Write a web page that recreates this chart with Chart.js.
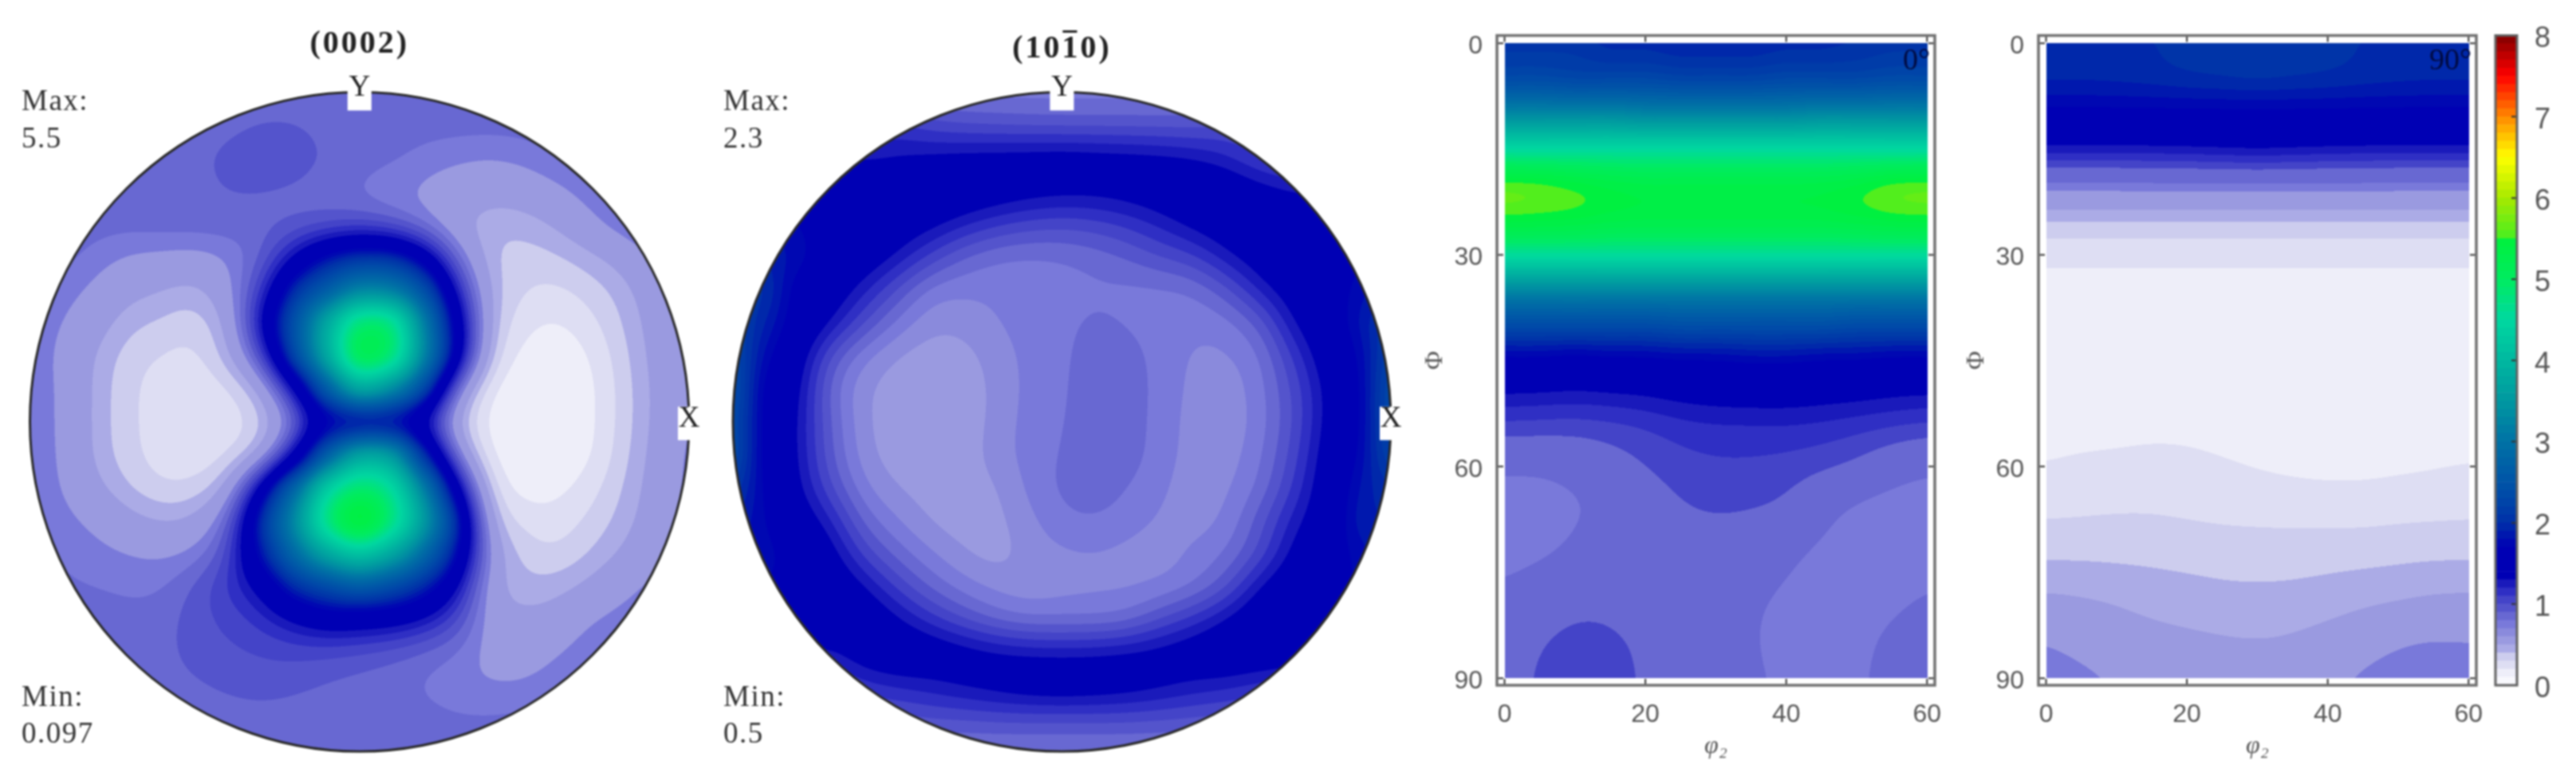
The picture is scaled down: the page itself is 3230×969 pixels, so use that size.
<!DOCTYPE html>
<html>
<head>
<meta charset="utf-8">
<title>Pole figures and ODF sections</title>
<script src="https://cdn.jsdelivr.net/npm/chart.js@4"></script>
<style>
  html, body { margin: 0; padding: 0; background: #fff; }
  body { position: relative; width: 3230px; height: 969px; overflow: hidden; }
  canvas { position: absolute; filter: blur(0.8px); }
</style>
</head>
<body>
<canvas id="pole1"></canvas>
<canvas id="pole2"></canvas>
<canvas id="odf0"></canvas>
<canvas id="odf90"></canvas>
<canvas id="colorbar"></canvas>
<script>
/* === DATA === */
const poleAxis = [-1, -0.9, -0.8, -0.7, -0.6, -0.5, -0.4, -0.3, -0.2, -0.1, 0, 0.1, 0.2, 0.3, 0.4, 0.5, 0.6, 0.7, 0.8, 0.9, 1];
const poleRows = [1, 0.9, 0.8, 0.7, 0.6, 0.5, 0.4, 0.3, 0.2, 0.1, 0, -0.1, -0.2, -0.3, -0.4, -0.5, -0.6, -0.7, -0.8, -0.9, -1];

const pole0002 = [
  [.85,.85,.85,.85,.85,.85,.85,.85,.85,.85,.85,.85,.85,.85,.85,.85,.85,.85,.85,.85,.85],
  [.85,.85,.85,.85,.85,.85,.86,.90,.90,.86,.85,.85,.85,.85,.85,.85,.85,.85,.85,.85,.85],
  [.85,.85,.85,.85,.85,.87,.94,1.0,1.0,.88,.86,.83,.76,.72,.70,.74,.82,.85,.85,.85,.85],
  [.85,.85,.85,.85,.85,.87,.90,.90,.86,.83,.77,.70,.66,.60,.56,.58,.66,.77,.82,.85,.85],
  [.85,.85,.85,.85,.87,.87,.87,.85,.88,.92,.95,.88,.72,.50,.42,.44,.52,.66,.80,.85,.85],
  [.85,.85,.76,.68,.66,.64,.70,.85,1.3,1.75,2.0,1.95,1.5,.78,.38,.34,.38,.46,.56,.74,.80],
  [.80,.76,.66,.55,.50,.44,.62,1.05,1.95,2.65,3.25,3.15,2.35,1.15,.42,.30,.27,.34,.44,.62,.75],
  [.78,.70,.58,.42,.38,.32,.48,1.3,2.4,3.7,4.75,4.6,3.1,1.45,.40,.22,.18,.26,.40,.58,.72],
  [.76,.68,.48,.34,.29,.26,.43,.95,2.2,3.7,5.0,4.7,3.15,1.45,.32,.15,.12,.19,.36,.56,.72],
  [.75,.70,.46,.32,.24,.22,.26,.45,1.2,2.6,3.65,3.3,2.2,.65,.16,.11,.10,.16,.34,.54,.70],
  [.75,.70,.46,.32,.24,.21,.23,.32,.70,1.55,1.95,1.85,1.15,.38,.13,.10,.10,.16,.34,.54,.72],
  [.76,.70,.46,.33,.24,.22,.26,.42,1.2,2.65,3.6,3.4,1.95,.65,.15,.11,.11,.17,.36,.56,.75],
  [.78,.70,.54,.39,.30,.31,.47,1.4,2.7,4.2,4.85,4.45,3.05,1.35,.25,.14,.16,.25,.40,.58,.75],
  [.80,.74,.67,.56,.48,.52,.80,1.95,3.25,4.65,5.38,4.7,3.45,1.9,.40,.25,.24,.32,.44,.60,.78],
  [.85,.78,.74,.70,.68,.72,.98,1.8,2.8,3.7,4.15,3.7,2.8,1.7,.58,.35,.30,.40,.52,.66,.80],
  [.85,.82,.80,.79,.78,.93,1.12,1.35,1.95,2.35,2.6,2.35,1.9,1.3,.52,.42,.45,.54,.66,.74,.80],
  [.85,.85,.85,.82,.85,.96,1.02,1.13,1.3,1.45,1.42,1.38,1.25,1.0,.58,.53,.58,.70,.75,.80,.82],
  [.85,.85,.85,.84,.86,.95,.98,1.0,1.02,1.0,.97,.92,.85,.78,.63,.64,.69,.77,.83,.85,.85],
  [.85,.85,.85,.85,.85,.88,.92,.95,.92,.88,.85,.82,.78,.72,.70,.70,.76,.84,.85,.85,.85],
  [.85,.85,.85,.85,.85,.85,.85,.85,.85,.85,.85,.85,.84,.82,.82,.84,.85,.85,.85,.85,.85],
  [.85,.85,.85,.85,.85,.85,.85,.85,.85,.85,.85,.85,.85,.85,.85,.85,.85,.85,.85,.85,.85]
];

const pole1010 = [
  [.74,.74,.74,.74,.74,.74,.74,.74,.74,.74,.74,.74,.74,.74,.74,.74,.74,.74,.74,.74,.74],
  [1.15,1.15,1.15,1.15,1.15,1.15,1.05,1.0,.98,.96,.95,.95,.95,.95,.95,1.0,1.0,1.0,1.0,1.0,1.0],
  [1.25,1.25,1.25,1.3,1.25,1.3,1.34,1.38,1.4,1.42,1.44,1.42,1.4,1.37,1.32,1.22,1.05,1.0,1.0,1.0,1.0],
  [1.6,1.6,1.6,1.55,1.55,1.55,1.55,1.5,1.45,1.4,1.37,1.37,1.4,1.45,1.5,1.5,1.4,1.3,1.3,1.3,1.3],
  [1.9,1.8,1.7,1.6,1.55,1.45,1.36,1.23,1.12,1.05,1.02,1.05,1.12,1.23,1.36,1.45,1.5,1.5,1.4,1.4,1.4],
  [2.0,1.9,1.75,1.55,1.45,1.29,1.07,.88,.79,.77,.79,.83,.90,1.0,1.07,1.27,1.42,1.55,1.6,1.65,1.7],
  [2.1,2.0,1.6,1.45,1.23,.98,.73,.71,.72,.74,.75,.78,.76,.76,.79,.95,1.23,1.42,1.55,1.75,1.9],
  [2.2,1.9,1.55,1.3,1.0,.76,.62,.63,.70,.74,.77,.83,.79,.75,.72,.74,.90,1.3,1.5,1.8,2.1],
  [2.3,1.75,1.42,.95,.70,.58,.54,.55,.65,.73,.78,.85,.85,.76,.68,.68,.76,1.1,1.42,1.7,2.2],
  [2.35,1.62,1.35,.82,.60,.54,.52,.52,.63,.73,.78,.87,.87,.76,.67,.63,.74,1.0,1.33,1.65,2.3],
  [2.3,1.6,1.3,.88,.60,.53,.51,.52,.64,.74,.79,.87,.87,.75,.66,.62,.73,.98,1.33,1.65,2.3],
  [2.3,1.6,1.3,.90,.62,.54,.52,.53,.66,.74,.81,.87,.87,.74,.66,.64,.76,1.03,1.38,1.7,2.2],
  [2.1,1.65,1.33,1.0,.70,.59,.55,.54,.58,.73,.83,.87,.80,.72,.64,.67,.80,1.1,1.42,1.8,2.0],
  [1.9,1.7,1.45,1.22,.85,.70,.58,.54,.56,.67,.78,.80,.75,.68,.65,.70,.95,1.24,1.45,1.85,1.9],
  [1.8,1.75,1.6,1.38,1.05,.85,.71,.60,.54,.64,.68,.69,.66,.64,.72,.79,1.0,1.35,1.55,1.75,1.9],
  [1.7,1.7,1.6,1.5,1.32,1.07,.87,.74,.66,.62,.65,.67,.67,.70,.77,.95,1.32,1.5,1.6,1.7,1.8],
  [1.6,1.6,1.6,1.55,1.5,1.34,1.15,.99,.85,.78,.79,.78,.82,1.0,1.15,1.34,1.5,1.55,1.55,1.55,1.55],
  [1.25,1.25,1.25,1.25,1.45,1.5,1.48,1.42,1.36,1.32,1.3,1.32,1.36,1.4,1.46,1.5,1.5,1.45,1.4,1.4,1.4],
  [1.05,1.05,1.05,1.05,1.15,1.22,1.26,1.34,1.4,1.46,1.48,1.46,1.42,1.36,1.28,1.24,1.15,1.1,1.1,1.1,1.1],
  [.95,.95,.95,.95,.95,.95,1.0,1.0,1.02,1.02,1.02,1.02,1.02,1.0,.98,.95,.95,.95,.95,.95,.95],
  [.75,.75,.75,.75,.75,.75,.75,.75,.75,.75,.75,.75,.75,.75,.75,.75,.75,.75,.75,.75,.75]
];

const phi2Values = [0, 5, 10, 15, 20, 25, 30, 35, 40, 45, 50, 55, 60];
const phiValues = [0, 5, 10, 15, 20, 25, 30, 35, 40, 45, 50, 55, 60, 65, 70, 75, 80, 85, 90];

const odfSection0 = [
  [2.05,2.05,2.05,1.95,1.95,1.9,1.9,1.9,1.95,1.95,2.0,2.05,2.05],
  [2.35,2.35,2.3,2.3,2.3,2.25,2.25,2.25,2.3,2.3,2.3,2.35,2.35],
  [3.3,3.3,3.3,3.3,3.25,3.25,3.25,3.25,3.25,3.3,3.3,3.3,3.3],
  [4.5,4.5,4.5,4.5,4.5,4.5,4.5,4.5,4.5,4.5,4.5,4.5,4.5],
  [5.53,5.5,5.43,5.35,5.3,5.3,5.3,5.3,5.3,5.32,5.39,5.5,5.53],
  [5.44,5.42,5.39,5.33,5.3,5.3,5.3,5.3,5.3,5.31,5.36,5.42,5.44],
  [4.55,4.55,4.55,4.55,4.55,4.55,4.55,4.55,4.55,4.55,4.55,4.55,4.55],
  [3.3,3.3,3.3,3.3,3.3,3.3,3.3,3.3,3.3,3.3,3.3,3.3,3.3],
  [2.35,2.35,2.35,2.35,2.35,2.4,2.4,2.4,2.4,2.4,2.35,2.35,2.35],
  [1.6,1.6,1.55,1.6,1.6,1.65,1.65,1.7,1.7,1.65,1.65,1.6,1.6],
  [1.27,1.26,1.24,1.26,1.28,1.33,1.36,1.37,1.37,1.35,1.33,1.3,1.28],
  [1.03,1.02,1.01,1.03,1.07,1.13,1.15,1.15,1.16,1.14,1.1,1.06,1.03],
  [.82,.82,.86,.93,1.0,1.06,1.08,1.08,1.06,1.03,.98,.88,.82],
  [.72,.72,.77,.84,.92,1.0,1.05,1.04,1.0,.85,.78,.74,.72],
  [.72,.73,.81,.87,.90,.93,.93,.90,.86,.80,.74,.72,.72],
  [.78,.83,.88,.90,.90,.90,.88,.86,.81,.74,.72,.74,.77],
  [.86,.92,.98,.97,.92,.88,.86,.82,.76,.73,.74,.78,.83],
  [.90,1.0,1.05,1.04,.97,.90,.86,.81,.76,.74,.76,.84,.87],
  [.92,1.03,1.07,1.06,.98,.90,.85,.82,.78,.75,.78,.84,.88]
];

const odfSection90 = [
  [1.98,1.98,1.99,2.0,2.04,2.07,2.08,2.07,2.04,2.0,1.99,1.98,1.98],
  [1.92,1.92,1.93,1.95,1.98,2.0,2.02,2.0,1.98,1.95,1.93,1.92,1.92],
  [1.65,1.65,1.65,1.65,1.65,1.65,1.65,1.65,1.65,1.65,1.65,1.65,1.65],
  [1.27,1.27,1.27,1.28,1.29,1.31,1.33,1.31,1.29,1.28,1.27,1.27,1.27],
  [.76,.76,.76,.76,.76,.76,.76,.76,.76,.76,.76,.76,.76],
  [.38,.38,.38,.38,.38,.38,.38,.38,.38,.38,.38,.38,.38],
  [.22,.22,.22,.22,.22,.22,.22,.22,.22,.22,.22,.22,.22],
  [.155,.155,.155,.155,.155,.155,.155,.155,.155,.155,.155,.155,.155],
  [.13,.13,.13,.13,.13,.13,.13,.13,.13,.13,.13,.13,.13],
  [.13,.13,.13,.13,.13,.13,.13,.13,.13,.13,.13,.13,.13],
  [.14,.14,.14,.14,.14,.14,.14,.14,.14,.14,.14,.14,.14],
  [.17,.17,.17,.18,.18,.17,.17,.16,.15,.15,.16,.17,.17],
  [.20,.22,.23,.24,.23,.21,.19,.18,.17,.17,.18,.19,.20],
  [.26,.27,.28,.28,.27,.26,.25,.24,.24,.24,.25,.25,.26],
  [.34,.34,.34,.34,.33,.32,.32,.32,.32,.32,.33,.34,.34],
  [.43,.43,.42,.41,.40,.39,.39,.39,.40,.41,.42,.43,.43],
  [.55,.53,.51,.48,.46,.44,.43,.44,.46,.49,.51,.54,.55],
  [.71,.63,.56,.54,.53,.52,.51,.52,.56,.62,.70,.73,.71],
  [.80,.76,.69,.62,.58,.56,.56,.58,.66,.74,.78,.80,.80]
];

const phi2Ticks = [0, 20, 40, 60];
const phiTicks = [0, 30, 60, 90];
const colorbarTicks = [0, 1, 2, 3, 4, 5, 6, 7, 8];

/* === COLOR HELPERS === */
const LEVEL_STEP = 0.1;
const LEVEL_COUNT = 80;

// flat bands below 1.3, one for each contour level
const paleBands = ['#f8f8fd', '#eeeef9', '#dedef3', '#cdcdee', '#ababe6', '#9a9ae0', '#8a8adc',
  '#7979da', '#6868d2', '#5454cc', '#4444c8', '#2f2fc4', '#1a1abb'];

const colorStops = [
  [1.3, '#0000b4'], [1.7, '#0000b4'], [2.0, '#0030a8'], [2.3, '#0048a8'], [3.0, '#0072a5'],
  [3.5, '#0098a0'], [4.0, '#00b8a0'], [4.5, '#00d8a0'], [5.0, '#00ec60'], [5.45, '#00f040'],
  [5.5, '#48ee20'], [6.0, '#a8ea00'], [6.5, '#ffff00'], [7.0, '#ff8800'], [7.5, '#ff0000'], [8.0, '#800000']
];

function hexToRGB(hex) {
  return [parseInt(hex.slice(1, 3), 16), parseInt(hex.slice(3, 5), 16), parseInt(hex.slice(5, 7), 16)];
}

function toHex(rgb) {
  return '#' + rgb.map(c => Math.round(c).toString(16).padStart(2, '0')).join('');
}

function levelColor(level, overrides) {
  if (level < paleBands.length) return overrides[level] || paleBands[level];
  const v = (level + 0.5) * LEVEL_STEP;
  for (let i = 1; i < colorStops.length; i++) {
    if (v <= colorStops[i][0]) {
      const [v0, c0] = colorStops[i - 1];
      const [v1, c1] = colorStops[i];
      const t = (v - v0) / (v1 - v0);
      const a = hexToRGB(c0), b = hexToRGB(c1);
      return toHex(a.map((c, k) => c + (b[k] - c) * t));
    }
  }
  return colorStops[colorStops.length - 1][1];
}

function makeLookup(overrides) {
  const out = [];
  for (let i = 0; i < LEVEL_COUNT; i++) out.push(hexToRGB(levelColor(i, overrides)));
  return out;
}

const FINE_PALE = makeLookup({});
const POLE_PALE = makeLookup({ 6: '#9a9ae0' });
const ODF_PALE = makeLookup({ 6: '#9a9ae0', 9: '#6868d2' });

/* === CONTOUR FILL === */
function catmull(p0, p1, p2, p3, t) {
  return 0.5 * (2 * p1 + (p2 - p0) * t + (2 * p0 - 5 * p1 + 4 * p2 - p3) * t * t + (3 * p1 - p0 - 3 * p2 + p3) * t * t * t);
}

function bspline(p0, p1, p2, p3, t) {
  const s = 1 - t;
  return (s * s * s * p0 + (3 * t * t * t - 6 * t * t + 4) * p1 + (-3 * t * t * t + 3 * t * t + 3 * t + 1) * p2 + t * t * t * p3) / 6;
}

function sampleWith(kernel, gridX, gridY, z, fx, fy, i, j) {
  const nx = gridX.length - 1, ny = gridY.length - 1;
  const col = [];
  for (let m = -1; m <= 2; m++) {
    const row = z[Math.max(0, Math.min(ny, j + m))];
    col.push(kernel(row[Math.max(0, i - 1)], row[i], row[Math.min(nx, i + 1)], row[Math.min(nx, i + 2)], fx - i));
  }
  return kernel(col[0], col[1], col[2], col[3], fy - j);
}

// smooth kernel for the flat pale areas, interpolating kernel near the peaks so they keep their height
function sampleGrid(gridX, gridY, z, x, y) {
  const fx = (x - gridX[0]) / (gridX[1] - gridX[0]);
  const fy = (y - gridY[0]) / (gridY[1] - gridY[0]);
  const i = Math.max(0, Math.min(gridX.length - 2, Math.floor(fx)));
  const j = Math.max(0, Math.min(gridY.length - 2, Math.floor(fy)));
  const soft = sampleWith(bspline, gridX, gridY, z, fx, fy, i, j);
  if (soft < 1.2) return soft;
  const sharp = sampleWith(catmull, gridX, gridY, z, fx, fy, i, j);
  const w = Math.min(1, (soft - 1.2) / 1.2);
  return soft + (sharp - soft) * w;
}

// paints the gridded values through the chart's scales; disc=true clips to the pole figure circle
function contourPlugin(gridX, gridY, z, lookup, disc) {
  return {
    id: 'contourFill',
    beforeDatasetsDraw(chart) {
      const { x: xs, y: ys } = chart.scales;
      const ctx = chart.ctx;
      const SS = 2;
      const xa = xs.getPixelForValue(gridX[0]), xb = xs.getPixelForValue(gridX[gridX.length - 1]);
      const ya = ys.getPixelForValue(gridY[0]), yb = ys.getPixelForValue(gridY[gridY.length - 1]);
      const left = Math.min(xa, xb), top = Math.min(ya, yb);
      const w = Math.abs(xb - xa), h = Math.abs(yb - ya);
      const off = document.createElement('canvas');
      off.width = Math.ceil(w * SS);
      off.height = Math.ceil(h * SS);
      const octx = off.getContext('2d');
      const img = octx.createImageData(off.width, off.height);
      for (let py = 0; py < off.height; py++) {
        const yv = ys.getValueForPixel(top + (py + 0.5) / SS);
        for (let px = 0; px < off.width; px++) {
          const xv = xs.getValueForPixel(left + (px + 0.5) / SS);
          if (disc && xv * xv + yv * yv > 1.02) continue;
          const v = sampleGrid(gridX, gridY, z, xv, yv);
          const lv = Math.max(0, Math.min(LEVEL_COUNT - 1, Math.floor(v / LEVEL_STEP)));
          const c = lookup[lv];
          const k = (py * off.width + px) * 4;
          img.data[k] = c[0]; img.data[k + 1] = c[1]; img.data[k + 2] = c[2]; img.data[k + 3] = 255;
        }
      }
      octx.putImageData(img, 0, 0);
      ctx.save();
      if (disc) {
        ctx.beginPath();
        ctx.ellipse(xs.getPixelForValue(0), ys.getPixelForValue(0), w / 2, h / 2, 0, 0, Math.PI * 2);
        ctx.clip();
      }
      ctx.imageSmoothingEnabled = true;
      ctx.drawImage(off, left, top, off.width / SS, off.height / SS);
      ctx.restore();
    }
  };
}

function gridPoints(gridX, gridY, z) {
  return gridY.flatMap((y, j) => gridX.map((x, i) => ({ x, y, z: z[j][i] })));
}

function place(id, left, width) {
  const c = document.getElementById(id);
  c.width = width;
  c.height = 969;
  c.style.left = left + 'px';
  c.style.top = '0px';
  return c;
}

/* === POLE FIGURES === */
const SERIF = '"Liberation Serif", serif';

function poleAnnotations(title, barIndex, maxText, minText, textLeft, titleY) {
  return {
    id: 'poleAnnotations',
    afterDatasetsDraw(chart) {
      const { x: xs, y: ys } = chart.scales;
      const ctx = chart.ctx;
      const cx = xs.getPixelForValue(0), cy = ys.getPixelForValue(0);
      const r = xs.getPixelForValue(1) - cx;
      const ry = ys.getPixelForValue(-1) - cy;
      ctx.save();
      ctx.strokeStyle = '#2a2a2a';
      ctx.lineWidth = 3;
      ctx.beginPath();
      ctx.ellipse(cx, cy, r, ry, 0, 0, Math.PI * 2);
      ctx.stroke();

      // white label boxes sitting on the rim
      ctx.fillStyle = '#fff';
      ctx.fillRect(cx - 15, cy - ry - 14, 30, 37);
      ctx.fillRect(cx + r - 14, cy - 19, 28, 42);

      ctx.fillStyle = '#222';
      ctx.textAlign = 'center';
      ctx.textBaseline = 'middle';
      ctx.font = '37px ' + SERIF;
      ctx.fillText('Y', cx, cy - ry - 5);
      ctx.fillText('X', cx + r, cy - 3);

      ctx.font = 'bold 40px ' + SERIF;
      ctx.letterSpacing = '3px';
      ctx.fillText(title, cx, titleY);
      if (barIndex >= 0) {
        // overbar of the negative Miller index
        const total = ctx.measureText(title).width;
        const before = ctx.measureText(title.slice(0, barIndex)).width;
        const digit = ctx.measureText(title[barIndex]).width;
        ctx.fillRect(cx - total / 2 + before + 1, titleY - 24, digit - 5, 3);
      }

      ctx.fillStyle = '#333';
      ctx.textAlign = 'left';
      ctx.font = '37px ' + SERIF;
      ctx.letterSpacing = '1.5px';
      ctx.fillText('Max:', textLeft, 128);
      ctx.fillText(maxText, textLeft, 175);
      ctx.fillText('Min:', textLeft, 875);
      ctx.fillText(minText, textLeft, 921);
      ctx.restore();
    }
  };
}

function makePole(id, left, width, padLeft, padRight, z, lookup, title, barIndex, maxText, minText, textLeft, titleY) {
  return new Chart(place(id, left, width), {
    type: 'scatter',
    data: { datasets: [{ data: gridPoints(poleAxis, poleRows, z), pointRadius: 0 }] },
    options: {
      responsive: false,
      animation: false,
      layout: { padding: { left: padLeft, right: padRight, top: 115.5, bottom: 27 } },
      scales: {
        x: { type: 'linear', min: -1, max: 1, display: false },
        y: { type: 'linear', min: -1, max: 1, display: false }
      },
      plugins: { legend: { display: false }, tooltip: { enabled: false } }
    },
    plugins: [contourPlugin(poleAxis, poleRows, z, lookup, true),
      poleAnnotations(title, barIndex, maxText, minText, textLeft, titleY)]
  });
}

makePole('pole1', 0, 890, 37.5, 26, pole0002, POLE_PALE, '(0002)', -1, '5.5', '0.097', 27, 56);
makePole('pole2', 890, 880, 29, 26, pole1010, FINE_PALE, '(1010)', 3, '2.3', '0.5', 17, 62);

/* === ODF SECTIONS === */
const SANS = '"Liberation Sans", Arial, sans-serif';
const AXIS_GREY = '#555';

// the tick labels sit a little under their ticks in the original
function nudgeLabels(scale, dy) {
  if (scale._nudged) return;
  scale._nudged = true;
  const draw = scale.drawLabels;
  scale.drawLabels = function (area) {
    this.ctx.save();
    this.ctx.translate(0, dy);
    draw.call(this, area);
    this.ctx.restore();
  };
}

function boxFrame(label) {
  return {
    id: 'boxFrame',
    afterDatasetsDraw(chart) {
      const { x: xs, y: ys } = chart.scales;
      const { left, right, top, bottom } = chart.chartArea;
      const ctx = chart.ctx;
      ctx.save();
      ctx.strokeStyle = '#333';
      ctx.lineWidth = 2;
      ctx.beginPath();
      phi2Ticks.forEach(v => {
        const p = xs.getPixelForValue(v);
        ctx.moveTo(p, bottom); ctx.lineTo(p, bottom - 8);
        ctx.moveTo(p, top); ctx.lineTo(p, top + 8);
      });
      phiTicks.forEach(v => {
        const p = ys.getPixelForValue(v);
        ctx.moveTo(left, p); ctx.lineTo(left + 8, p);
        ctx.moveTo(right, p); ctx.lineTo(right - 8, p);
      });
      ctx.stroke();
      ctx.strokeStyle = '#707070';
      ctx.lineWidth = 3.5;
      ctx.strokeRect(left, top, right - left, bottom - top);

      ctx.fillStyle = '#000a40';
      ctx.textAlign = 'right';
      ctx.textBaseline = 'middle';
      ctx.font = '38px ' + SERIF;
      ctx.fillText(label, xs.getPixelForValue(60) + 4, ys.getPixelForValue(2.6));
      ctx.restore();
    }
  };
}

function makeOdf(id, left, width, padRight, z, label) {
  return new Chart(place(id, left, width), {
    type: 'scatter',
    data: { datasets: [{ data: gridPoints(phi2Values, phiValues, z), pointRadius: 0 }] },
    options: {
      responsive: false,
      animation: false,
      layout: { padding: { left: 0, right: padRight, top: 44.5, bottom: 14 } },
      scales: {
        x: {
          type: 'linear', min: -1.08, max: 61.1,
          grid: { display: false }, border: { display: false },
          afterBuildTicks: s => { s.ticks = phi2Ticks.map(value => ({ value })); },
          afterFit: s => { s.height = 96; },
          ticks: { color: AXIS_GREY, font: { family: SANS, size: 32 }, padding: 10, maxRotation: 0, autoSkip: false },
          title: { display: true, text: '\u03c6\u2082', color: AXIS_GREY, font: { family: SERIF, size: 32, style: 'italic' }, padding: 0 }
        },
        y: {
          type: 'linear', min: -1.1, max: 91, reverse: true,
          grid: { display: false }, border: { display: false },
          afterBuildTicks: s => { s.ticks = phiTicks.map(value => ({ value })); },
          afterFit: s => { s.width = 97; nudgeLabels(s, 4); },
          ticks: { color: AXIS_GREY, font: { family: SANS, size: 32 }, padding: 10, autoSkip: false },
          title: { display: true, text: '\u03a6', color: AXIS_GREY, font: { family: SERIF, size: 32 }, padding: 0 }
        }
      },
      plugins: { legend: { display: false }, tooltip: { enabled: false } }
    },
    plugins: [contourPlugin(phi2Values, phiValues, z, ODF_PALE, false), boxFrame(label)]
  });
}

makeOdf('odf0', 1780, 690, 44, odfSection0, '0\u00b0');
makeOdf('odf90', 2458.5, 670, 24, odfSection90, '90\u00b0');

/* === COLORBAR === */
const colorLevels = Array.from({ length: LEVEL_COUNT }, (_, i) => i);

const colorbarFrame = {
  id: 'colorbarFrame',
  afterDatasetsDraw(chart) {
    const { y: ys } = chart.scales;
    const { left, right, top, bottom } = chart.chartArea;
    const ctx = chart.ctx;
    ctx.save();
    ctx.strokeStyle = '#333';
    ctx.lineWidth = 2;
    ctx.beginPath();
    colorbarTicks.forEach(v => {
      const p = ys.getPixelForValue(v);
      ctx.moveTo(right, p); ctx.lineTo(right - 7, p);
    });
    ctx.stroke();
    ctx.strokeStyle = '#606060';
    ctx.lineWidth = 3;
    ctx.strokeRect(left, top, right - left, bottom - top);
    ctx.restore();
  }
};

new Chart(place('colorbar', 3110, 120), {
  type: 'bar',
  data: {
    labels: [''],
    datasets: colorLevels.map(i => ({
      data: [LEVEL_STEP],
      backgroundColor: toHex(FINE_PALE[i]),
      barPercentage: 1,
      categoryPercentage: 1
    }))
  },
  options: {
    responsive: false,
    animation: false,
    layout: { padding: { left: 19, right: 0, top: 44.5, bottom: 110 } },
    scales: {
      x: { stacked: true, display: false },
      y: {
        stacked: true, position: 'right', min: 0, max: 8,
        grid: { display: false }, border: { display: false },
        afterBuildTicks: s => { s.ticks = colorbarTicks.map(value => ({ value })); },
        afterFit: s => { s.width = 74; nudgeLabels(s, 5); },
        ticks: { color: AXIS_GREY, font: { family: SANS, size: 36 }, padding: 14, autoSkip: false }
      }
    },
    plugins: { legend: { display: false }, tooltip: { enabled: false } }
  },
  plugins: [colorbarFrame]
});
</script>
</body>
</html>
